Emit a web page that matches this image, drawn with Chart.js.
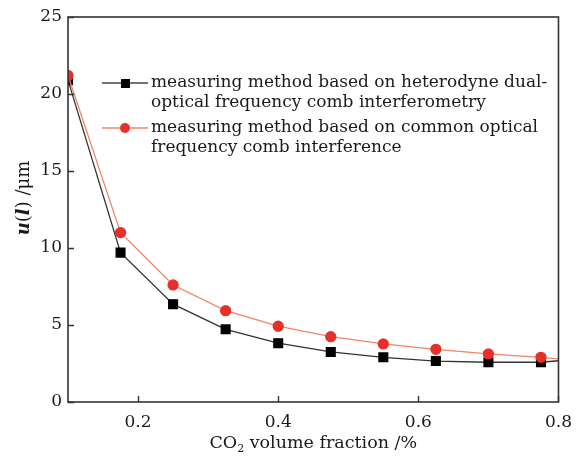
<!DOCTYPE html>
<html>
<head>
<meta charset="utf-8">
<script src="https://cdn.jsdelivr.net/npm/chart.js@4"></script>
<style>
  html, body { margin: 0; padding: 0; background: #fff; }
  #wrap { width: 582px; height: 459px; position: relative; }
</style>
</head>
<body>
<div id="wrap"><canvas id="chart" width="582" height="459"></canvas></div>
<script>
// CO2 volume fraction (%)
const fractions = [0.1, 0.175, 0.25, 0.325, 0.4, 0.475, 0.55, 0.625, 0.7, 0.775, 0.8];
// u(l) in μm, dual-comb heterodyne method
const dualComb = [20.9, 9.7, 6.35, 4.72, 3.82, 3.25, 2.9, 2.66, 2.58, 2.58, 2.68];
// u(l) in μm, common optical frequency comb interference
const singleComb = [21.2, 11.0, 7.6, 5.93, 4.92, 4.24, 3.77, 3.42, 3.12, 2.9, 2.8];
// the last value sits on the right frame, no marker there
const markerShown = [1, 1, 1, 1, 1, 1, 1, 1, 1, 1, 0];

const yTicks = [0, 5, 10, 15, 20, 25];
const xTicks = [0.2, 0.4, 0.6, 0.8];

const legendItems = [
    { lines: ['measuring method based on heterodyne dual-', 'optical frequency comb interferometry'], color: '#000', line: '#444', style: 'rect' },
    { lines: ['measuring method based on common optical', 'frequency comb interference'], color: '#e8302a', line: '#f08468', style: 'circle' }
];

const serif = '"DejaVu Serif", "Liberation Serif", serif';

function toPoints(ys) {
    return fractions.map((x, i) => ({ x: x, y: ys[i] }));
}

// рамка, внутренние засечки, легенда и подписи осей
const decor = {
    id: 'decor',
    afterDraw(chart) {
        const ctx = chart.ctx;
        const a = chart.chartArea;
        const xs = chart.scales.x, ys = chart.scales.y;
        ctx.save();
        ctx.strokeStyle = '#333';
        ctx.lineWidth = 1.6;
        ctx.strokeRect(a.left, a.top, a.right - a.left, a.bottom - a.top);

        ctx.lineWidth = 1.4;
        ctx.beginPath();
        xTicks.forEach(v => {
            const px = Math.round(xs.getPixelForValue(v)) + 0.5;
            ctx.moveTo(px, a.bottom);
            ctx.lineTo(px, a.bottom - 6);
        });
        yTicks.forEach(v => {
            const py = Math.round(ys.getPixelForValue(v)) + 0.5;
            ctx.moveTo(a.left, py);
            ctx.lineTo(a.left + 6, py);
        });
        ctx.stroke();

        // легенда
        ctx.font = '17px ' + serif;
        ctx.textBaseline = 'middle';
        let y = 83;
        legendItems.forEach(item => {
            ctx.strokeStyle = item.line;
            ctx.lineWidth = 1.3;
            ctx.beginPath();
            ctx.moveTo(102, y);
            ctx.lineTo(148, y);
            ctx.stroke();
            ctx.fillStyle = item.color;
            if (item.style === 'rect') {
                ctx.fillRect(121, y - 4, 9, 9);
            } else {
                ctx.beginPath();
                ctx.arc(125, y, 5, 0, Math.PI * 2);
                ctx.fill();
            }
            ctx.fillStyle = '#1a1a1a';
            item.lines.forEach((t, i) => ctx.fillText(t, 151, y + i * 20));
            y += 45;
        });

        // подпись оси X с индексом
        ctx.textBaseline = 'alphabetic';
        const cx = (a.left + a.right) / 2;
        const p1 = 'CO', p3 = ' volume fraction /%';
        const big = '17.5px ' + serif, small = '11px ' + serif;
        ctx.font = big;
        const w1 = ctx.measureText(p1).width;
        const w3 = ctx.measureText(p3).width;
        ctx.font = small;
        const w2 = ctx.measureText('2').width;
        const sx = cx - (w1 + w2 + w3) / 2;
        const by = 448;
        ctx.font = big;
        ctx.fillText(p1, sx, by);
        ctx.font = small;
        ctx.fillText('2', sx + w1, by + 4);
        ctx.font = big;
        ctx.fillText(p3, sx + w1 + w2, by);

        // подпись оси Y
        ctx.translate(29, 198);
        ctx.rotate(-Math.PI / 2);
        const fi = 'italic bold 18px ' + serif;
        const fn = '18px ' + serif;
        const parts = [['u', fi], ['(', fn], ['l', fi], [') /μm', fn]];
        let total = 0;
        parts.forEach(p => { ctx.font = p[1]; total += ctx.measureText(p[0]).width; });
        let tx = -total / 2;
        parts.forEach(p => { ctx.font = p[1]; ctx.fillText(p[0], tx, 0); tx += ctx.measureText(p[0]).width; });
        ctx.restore();
    }
};

const ctx = document.getElementById('chart').getContext('2d');
new Chart(ctx, {
    type: 'line',
    data: {
        datasets: [
            {
                label: 'common',
                data: toPoints(singleComb),
                borderColor: '#f08468',
                borderWidth: 1.3,
                backgroundColor: '#e8302a',
                pointBorderColor: '#e8302a',
                pointStyle: 'circle',
                pointRadius: markerShown.map(m => m ? 5 : 0),
                tension: 0,
                fill: false
            },
            {
                label: 'dual',
                data: toPoints(dualComb),
                borderColor: '#333',
                borderWidth: 1.3,
                backgroundColor: '#000',
                pointBorderColor: '#000',
                pointStyle: 'rect',
                pointRadius: markerShown.map(m => m ? 6.2 : 0),
                tension: 0,
                fill: false
            }
        ]
    },
    options: {
        responsive: false,
        animation: false,
        layout: { padding: { top: 17, right: 22, left: 0, bottom: 0 } },
        plugins: { legend: { display: false }, tooltip: { enabled: false } },
        scales: {
            x: {
                type: 'linear',
                min: 0.1,
                max: 0.8,
                afterFit: s => { s.height = 57; },
                afterBuildTicks: s => { s.ticks = xTicks.map(v => ({ value: v })); },
                grid: { display: false, drawTicks: false },
                border: { display: false },
                ticks: {
                    color: '#1a1a1a',
                    font: { family: serif, size: 17 },
                    padding: 10,
                    maxRotation: 0,
                    callback: v => v.toFixed(1)
                }
            },
            y: {
                min: 0,
                max: 25,
                afterFit: s => { s.width = 68; },
                afterBuildTicks: s => { s.ticks = yTicks.map(v => ({ value: v })); },
                grid: { display: false, drawTicks: false },
                border: { display: false },
                ticks: {
                    color: '#1a1a1a',
                    font: { family: serif, size: 17 },
                    padding: 6
                }
            }
        }
    },
    plugins: [decor]
});
</script>
</body>
</html>
